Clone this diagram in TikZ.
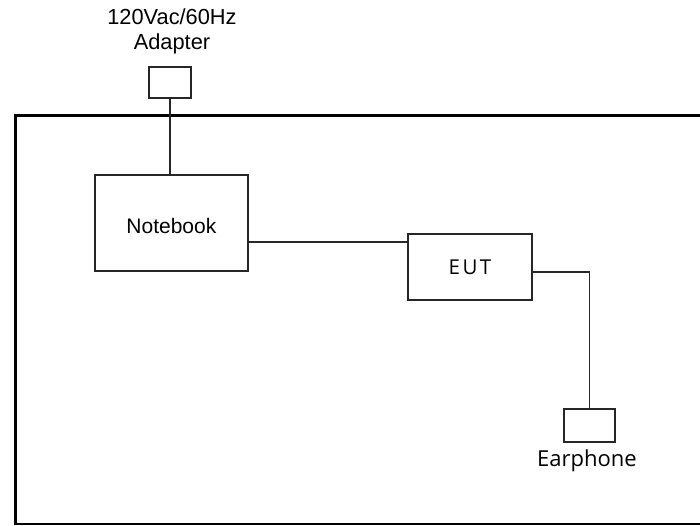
\documentclass[tikz,border=0pt]{standalone}
\usepackage{fontspec}
\setmainfont{Liberation Sans}
\newfontfamily\segoe{Open Sans}
\newfontfamily\segoesp[LetterSpace=12]{Open Sans}
\begin{document}
\begin{tikzpicture}[x=1pt,y=-1pt,
  box/.style={draw=black!85, line width=1.8pt, inner sep=0pt, anchor=north west},
  wire/.style={draw=black!85, line width=1.6pt},
  frame/.style={draw=black, line width=3.4pt},
  lbl/.style={inner sep=0pt, align=center}
]
\useasboundingbox (0,0) rectangle (700,526);
% outer frame (right side beyond picture)
\draw[frame] (700,115.5) -- (15.5,115.5) -- (15.5,523.5);
\draw[draw=black, line width=2.2pt] (14,524) -- (700,524);

\node[lbl, font=\fontsize{21.8}{25}\selectfont] (adlbl) at (172,31) {120Vac/60Hz\\Adapter};
\node[box, minimum width=42pt, minimum height=31pt] (adapter) at (148,66) {};
\node[box, minimum width=153pt, minimum height=96pt] (notebook) at (94,174) {};
\node[lbl, font=\fontsize{21}{24}\selectfont] (nbtext) at ([yshift=-3pt]notebook.center) {Notebook};
\node[box, minimum width=124pt, minimum height=66pt] (eut) at (407,233) {};
\node[inner sep=0pt, font=\segoesp\fontsize{20.5}{24}\selectfont] (euttext) at (470,267) {EUT};
\node[box, minimum width=51pt, minimum height=33pt] (earphone) at (563,408) {};
\node[inner sep=0pt, font=\segoe\fontsize{22}{25}\selectfont] (eartext) at (587,461) {Earphone};

\coordinate (j1) at (320,242);
\coordinate (j2) at (560,272);
\draw[wire] (adapter.south) -- (adapter.south |- notebook.north);
\draw[wire] (notebook.east |- j1) -- (eut.west |- j1);
\draw[wire] (eut.east |- j2) -| (earphone.north);
\end{tikzpicture}
\end{document}
